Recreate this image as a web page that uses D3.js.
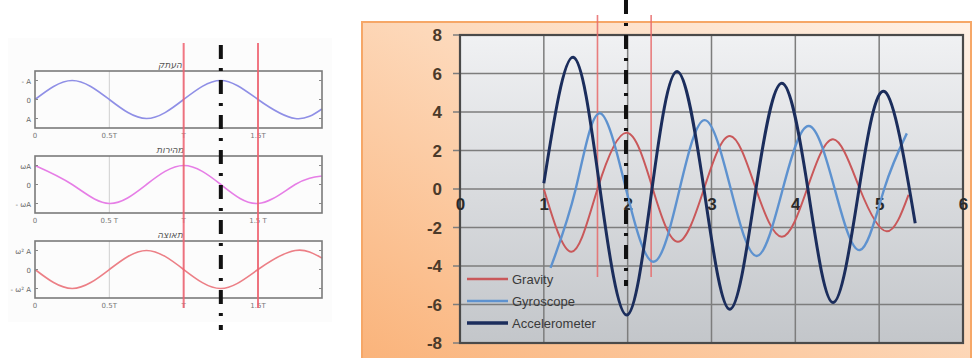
<!DOCTYPE html>
<html><head><meta charset="utf-8">
<script src="https://cdn.jsdelivr.net/npm/d3@7"></script>
<style>html,body{margin:0;padding:0;background:#fff;}svg{display:block;}</style>
</head><body>
<svg id="c" width="974" height="358"></svg>
<script>
// ---------- Left panel data (x in units of T) ----------
const leftTitles = ["העתק", "מהירות", "תאוצה"];
const leftXTickVals = [0, 0.5, 1, 1.5];
const leftXTickLabels = [["0","0.5T","T","1.5T"],["0","0.5 T","T","1.5 T"],["0","0.5T","T","1.5T"]];
const leftYTickLabels = [["- A","0","A"],["ωA","0","- ωA"],["ω² A","0","- ω² A"]];
const leftX = [0, 0.25, 0.5, 0.75, 1, 1.25, 1.5, 1.75, 1.93];
const displacement = [0, 1, 0, -1, 0, 1, 0, -1, -0.5];
const velocity = [1, 0, -1, 0, 1, 0, -1, 0, 0.45];
const acceleration = [0, -1, 0, 1, 0, -1, 0, 1, 0.6];
const leftMarkers = [1, 1.5];
const leftCenter = 1.25;

// ---------- Right panel data ----------
const xTicks = [0,1,2,3,4,5,6];
const yTicks = [-8,-6,-4,-2,0,2,4,6,8];
const seriesNames = ["Gravity", "Gyroscope", "Accelerometer"];
const gravityX = [1.0,1.33,1.64,1.99,2.30,2.60,2.91,3.22,3.53,3.84,4.14,4.45,4.77,5.09,5.35];
const gravityY = [0,-3.26,0,2.92,0,-2.74,0,2.75,0,-2.48,0,2.58,0,-2.2,-0.3];
const gyroX = [1.08,1.38,1.66,1.98,2.31,2.62,2.92,3.23,3.54,3.85,4.16,4.47,4.77,5.06,5.33];
const gyroY = [-4.1,0,3.93,0,-3.78,0,3.58,0,-3.48,0,3.27,0,-3.17,0,2.89];
const accelX = [1.0,1.35,1.67,1.99,2.29,2.59,2.91,3.22,3.53,3.84,4.15,4.45,4.76,5.07,5.43];
const accelY = [0.3,6.84,0,-6.55,0,6.1,0,-6.25,0,5.49,0,-5.9,0,5.05,-1.78];
const rightMarkers = [1.64, 2.28];
const rightCenter = 1.98;

const svg = d3.select("#c");
const defs = svg.append("defs");

// ================= LEFT PANEL =================
svg.append("rect").attr("x",8).attr("y",38).attr("width",324).attr("height",284).attr("fill","#fcfcfc");
const lx = d3.scaleLinear().domain([0,1.5]).range([35,258]);
const boxTops = [71,156,241];
const boxH = 57;
const leftColors = ["#8f8fe6","#e67ee6","#ec7f86"];
const leftData = [displacement, velocity, acceleration];
const lxEnd = 322;

leftData.forEach((vals, i) => {
  const top = boxTops[i];
  const ly = d3.scaleLinear().domain([-1.5,1.5]).range([top+boxH, top]);
  const g = svg.append("g");
  leftXTickVals.slice(1).forEach(v => {
    g.append("line").attr("x1",lx(v)).attr("x2",lx(v)).attr("y1",top).attr("y2",top+boxH)
      .attr("stroke","#cfcfcf").attr("stroke-width",1);
  });
  const line = d3.line().x((d,k)=>lx(leftX[k])).y(d=>ly(d)).curve(d3.curveNatural);
  g.append("path").attr("d", line(vals)).attr("fill","none").attr("stroke",leftColors[i]).attr("stroke-width",1.6);
  g.append("rect").attr("x",35).attr("y",top).attr("width",lxEnd-35).attr("height",boxH)
    .attr("fill","none").attr("stroke","#7a7a7a").attr("stroke-width",1.6);
  [1,0,-1].forEach((v,k) => {
    g.append("line").attr("x1",35).attr("x2",38).attr("y1",ly(v)).attr("y2",ly(v)).attr("stroke","#888");
    g.append("line").attr("x1",lxEnd-3).attr("x2",lxEnd).attr("y1",ly(v)).attr("y2",ly(v)).attr("stroke","#888");
    g.append("text").attr("x",31).attr("y",ly(v)+3).attr("text-anchor","end")
      .attr("font-family","DejaVu Sans").attr("font-size",7).attr("fill","#666").text(leftYTickLabels[i][k]);
  });
  leftXTickVals.forEach((v,k) => {
    g.append("text").attr("x",lx(v)).attr("y",top+boxH+10).attr("text-anchor","middle")
      .attr("font-family","DejaVu Sans").attr("font-size",7).attr("fill","#777").text(leftXTickLabels[i][k]);
  });
  g.append("text").attr("x",170).attr("y",top-3).attr("text-anchor","middle")
    .attr("font-family","DejaVu Sans").attr("font-size",9).attr("font-style","italic").attr("fill","#555").text(leftTitles[i]);
});

leftMarkers.forEach(v => {
  svg.append("line").attr("x1",lx(v)).attr("x2",lx(v)).attr("y1",43).attr("y2",308)
    .attr("stroke","#f0606e").attr("stroke-width",2).attr("opacity",0.85);
});
svg.append("line").attr("x1",lx(leftCenter)).attr("x2",lx(leftCenter)).attr("y1",45).attr("y2",330)
  .attr("stroke","#111").attr("stroke-width",4).attr("stroke-dasharray","14,9,3,9");

// ================= RIGHT PANEL =================
const og = defs.append("linearGradient").attr("id","og").attr("x1","1").attr("y1","0").attr("x2","0").attr("y2","1");
og.append("stop").attr("offset","0%").attr("stop-color","#fff1e6");
og.append("stop").attr("offset","45%").attr("stop-color","#fdd9bb");
og.append("stop").attr("offset","100%").attr("stop-color","#fab37a");
svg.append("rect").attr("x",362).attr("y",22).attr("width",609).attr("height",340)
  .attr("fill","url(#og)").attr("stroke","#f6a767").attr("stroke-width",2);

const pg = defs.append("linearGradient").attr("id","pg").attr("x1","0").attr("y1","0").attr("x2","0").attr("y2","1");
pg.append("stop").attr("offset","0%").attr("stop-color","#f0f1f3");
pg.append("stop").attr("offset","100%").attr("stop-color","#c3c6ca");

const X = d3.scaleLinear().domain([0,6]).range([460,963]);
const Y = d3.scaleLinear().domain([-8,8]).range([343,35]);

svg.append("rect").attr("x",X(0)).attr("y",Y(8)).attr("width",X(6)-X(0)).attr("height",Y(-8)-Y(8))
  .attr("fill","url(#pg)");

const grid = svg.append("g");
yTicks.forEach(v => {
  grid.append("line").attr("x1",X(0)-7).attr("x2",X(6)).attr("y1",Y(v)).attr("y2",Y(v))
    .attr("stroke","#7d7d7d").attr("stroke-width",1.5);
});
xTicks.forEach(v => {
  grid.append("line").attr("x1",X(v)).attr("x2",X(v)).attr("y1",Y(8)).attr("y2",Y(-8))
    .attr("stroke","#7d7d7d").attr("stroke-width",1.5);
});
svg.append("rect").attr("x",X(0)).attr("y",Y(8)).attr("width",X(6)-X(0)).attr("height",Y(-8)-Y(8))
  .attr("fill","none").attr("stroke","#4a4a4a").attr("stroke-width",2.2);

const fmt = d => String(d);
const yAxis = d3.axisLeft(Y).tickValues(yTicks).tickSize(0).tickPadding(0).tickFormat(fmt);
const ya = svg.append("g").attr("transform",`translate(${X(0)-18},0)`).call(yAxis);
ya.select(".domain").remove();
ya.selectAll("text").attr("font-family","Liberation Sans, Arial").attr("font-weight","bold")
  .attr("font-size",17).attr("fill","#4b3a2a").attr("dy","0.35em");

const xAxis = d3.axisBottom(X).tickValues(xTicks).tickSize(0).tickPadding(0).tickFormat(fmt);
const xa = svg.append("g").attr("transform",`translate(0,${Y(0)+6})`).call(xAxis);
xa.select(".domain").remove();
xa.selectAll("text").attr("font-family","Liberation Sans, Arial").attr("font-weight","bold")
  .attr("font-size",17).attr("fill","#2a2a2a").attr("dy","0.9em");

rightMarkers.forEach(v => {
  svg.append("line").attr("x1",X(v)).attr("x2",X(v)).attr("y1",15).attr("y2",277)
    .attr("stroke","#e86a6a").attr("stroke-width",1.6).attr("opacity",0.85);
});

const colors = ["#c9585a", "#5e92cf", "#1b2d5c"];
const widths = [2, 2.4, 3];
const xs = [gravityX, gyroX, accelX];
const ysd = [gravityY, gyroY, accelY];
xs.forEach((xa_, i) => {
  const pts = xa_.map((x,k)=>[x, ysd[i][k]]);
  const line = d3.line().x(d=>X(d[0])).y(d=>Y(d[1])).curve(d3.curveNatural);
  svg.append("path").attr("d", line(pts)).attr("fill","none").attr("stroke",colors[i])
    .attr("stroke-width",widths[i]).attr("stroke-linejoin","round");
});

svg.append("line").attr("x1",X(rightCenter)).attr("x2",X(rightCenter)).attr("y1",0).attr("y2",286)
  .attr("stroke","#111").attr("stroke-width",4).attr("stroke-dasharray","14,9,3,9");

const leg = svg.append("g");
seriesNames.forEach((n,i) => {
  const y = 279 + i*22;
  leg.append("line").attr("x1",467).attr("x2",508).attr("y1",y).attr("y2",y)
    .attr("stroke",colors[i]).attr("stroke-width",widths[i]+0.3);
  leg.append("text").attr("x",512).attr("y",y).attr("dy","0.35em")
    .attr("font-family","Liberation Sans Narrow, Liberation Sans, Arial").attr("font-size",13)
    .attr("fill","#3a3a3a").text(n);
});
</script>
</body></html>
